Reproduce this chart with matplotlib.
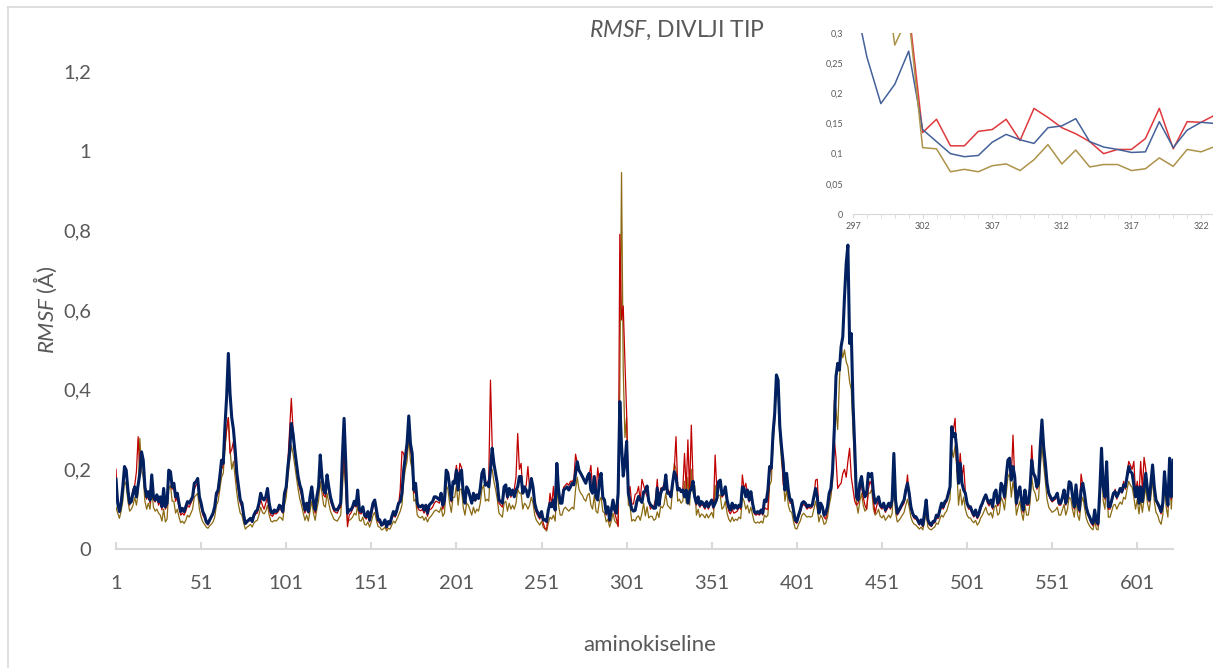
import numpy as np
import matplotlib
matplotlib.use("Agg")
import matplotlib.pyplot as plt
from matplotlib.lines import Line2D

plt.rcParams["font.family"] = ["Lato", "DejaVu Sans"]
plt.rcParams["mathtext.fontset"] = "custom"
plt.rcParams["mathtext.it"] = "Lato:italic"
plt.rcParams["mathtext.rm"] = "Lato"

# RMSF per residue (A)
rmsf_navy = [
    0.175, 0.115, 0.094, 0.115, 0.156, 0.207, 0.198, 0.148, 0.115, 0.119,
    0.140, 0.156, 0.131, 0.161, 0.190, 0.244, 0.223, 0.156, 0.131, 0.144,
    0.123, 0.186, 0.131, 0.123, 0.136, 0.119, 0.131, 0.106, 0.152, 0.106,
    0.115, 0.198, 0.194, 0.156, 0.165, 0.131, 0.140, 0.115, 0.094, 0.102,
    0.094, 0.106, 0.119, 0.115, 0.123, 0.131, 0.165, 0.169, 0.177, 0.131,
    0.115, 0.094, 0.085, 0.069, 0.064, 0.073, 0.081, 0.090, 0.106, 0.140,
    0.148, 0.182, 0.223, 0.215, 0.307, 0.382, 0.491, 0.390, 0.330, 0.300,
    0.250, 0.190, 0.156, 0.123, 0.115, 0.085, 0.064, 0.069, 0.073, 0.077,
    0.069, 0.085, 0.094, 0.098, 0.115, 0.140, 0.127, 0.123, 0.131, 0.152,
    0.115, 0.094, 0.090, 0.098, 0.094, 0.098, 0.110, 0.106, 0.094, 0.140,
    0.156, 0.207, 0.244, 0.315, 0.290, 0.249, 0.215, 0.182, 0.161, 0.148,
    0.119, 0.098, 0.115, 0.094, 0.131, 0.156, 0.119, 0.098, 0.131, 0.156,
    0.236, 0.182, 0.148, 0.140, 0.186, 0.156, 0.131, 0.115, 0.102, 0.098,
    0.098, 0.106, 0.115, 0.232, 0.328, 0.215, 0.090, 0.098, 0.098, 0.106,
    0.120, 0.110, 0.148, 0.098, 0.094, 0.106, 0.085, 0.081, 0.094, 0.073,
    0.094, 0.115, 0.123, 0.098, 0.073, 0.073, 0.060, 0.064, 0.073, 0.056,
    0.069, 0.064, 0.081, 0.094, 0.085, 0.098, 0.115, 0.119, 0.140, 0.198,
    0.232, 0.265, 0.334, 0.265, 0.240, 0.148, 0.165, 0.115, 0.106, 0.106,
    0.110, 0.098, 0.110, 0.090, 0.110, 0.115, 0.119, 0.131, 0.131, 0.127,
    0.123, 0.140, 0.110, 0.123, 0.198, 0.190, 0.156, 0.123, 0.169, 0.165,
    0.198, 0.148, 0.190, 0.198, 0.140, 0.115, 0.156, 0.148, 0.131, 0.115,
    0.140, 0.123, 0.136, 0.127, 0.152, 0.190, 0.200, 0.160, 0.165, 0.156,
    0.198, 0.253, 0.215, 0.190, 0.165, 0.123, 0.119, 0.115, 0.156, 0.161,
    0.131, 0.152, 0.136, 0.148, 0.131, 0.148, 0.156, 0.182, 0.182, 0.140,
    0.156, 0.148, 0.131, 0.148, 0.177, 0.156, 0.115, 0.098, 0.090, 0.081,
    0.094, 0.073, 0.073, 0.069, 0.098, 0.115, 0.106, 0.123, 0.098, 0.215,
    0.148, 0.115, 0.115, 0.148, 0.152, 0.156, 0.148, 0.156, 0.165, 0.161,
    0.190, 0.219, 0.198, 0.190, 0.182, 0.173, 0.165, 0.182, 0.190, 0.148,
    0.140, 0.182, 0.131, 0.123, 0.170, 0.190, 0.130, 0.123, 0.090, 0.106,
    0.073, 0.098, 0.123, 0.098, 0.090, 0.140, 0.370, 0.260, 0.183, 0.215,
    0.270, 0.140, 0.120, 0.100, 0.095, 0.097, 0.119, 0.132, 0.123, 0.117,
    0.143, 0.146, 0.158, 0.120, 0.111, 0.107, 0.102, 0.103, 0.153, 0.110,
    0.139, 0.152, 0.150, 0.186, 0.140, 0.140, 0.131, 0.165, 0.194, 0.182,
    0.148, 0.152, 0.144, 0.148, 0.131, 0.148, 0.115, 0.144, 0.150, 0.170,
    0.131, 0.115, 0.131, 0.110, 0.119, 0.115, 0.106, 0.119, 0.106, 0.115,
    0.123, 0.106, 0.115, 0.127, 0.169, 0.173, 0.136, 0.140, 0.156, 0.123,
    0.106, 0.098, 0.115, 0.102, 0.110, 0.102, 0.110, 0.106, 0.156, 0.152,
    0.131, 0.148, 0.123, 0.144, 0.115, 0.094, 0.090, 0.094, 0.090, 0.098,
    0.090, 0.123, 0.119, 0.148, 0.207, 0.203, 0.290, 0.341, 0.437, 0.424,
    0.307, 0.257, 0.215, 0.148, 0.190, 0.148, 0.123, 0.123, 0.098, 0.073,
    0.069, 0.085, 0.098, 0.115, 0.119, 0.115, 0.106, 0.110, 0.108, 0.110,
    0.131, 0.152, 0.131, 0.090, 0.115, 0.106, 0.085, 0.090, 0.106, 0.140,
    0.152, 0.198, 0.299, 0.433, 0.466, 0.449, 0.508, 0.533, 0.633, 0.717,
    0.763, 0.516, 0.541, 0.366, 0.257, 0.131, 0.123, 0.165, 0.182, 0.148,
    0.131, 0.140, 0.190, 0.182, 0.190, 0.140, 0.115, 0.123, 0.131, 0.110,
    0.106, 0.115, 0.098, 0.106, 0.115, 0.106, 0.123, 0.240, 0.123, 0.090,
    0.098, 0.106, 0.115, 0.123, 0.148, 0.165, 0.140, 0.106, 0.090, 0.081,
    0.081, 0.073, 0.064, 0.073, 0.060, 0.090, 0.123, 0.073, 0.064, 0.060,
    0.069, 0.070, 0.085, 0.081, 0.098, 0.115, 0.106, 0.119, 0.123, 0.140,
    0.156, 0.307, 0.282, 0.290, 0.249, 0.165, 0.215, 0.165, 0.148, 0.140,
    0.115, 0.106, 0.106, 0.094, 0.085, 0.098, 0.081, 0.090, 0.106, 0.115,
    0.127, 0.136, 0.123, 0.115, 0.123, 0.106, 0.140, 0.148, 0.115, 0.123,
    0.165, 0.156, 0.131, 0.182, 0.223, 0.228, 0.173, 0.207, 0.182, 0.115,
    0.140, 0.156, 0.123, 0.098, 0.148, 0.115, 0.115, 0.152, 0.223, 0.190,
    0.182, 0.156, 0.165, 0.257, 0.324, 0.257, 0.215, 0.165, 0.140, 0.131,
    0.123, 0.127, 0.131, 0.140, 0.115, 0.115, 0.130, 0.148, 0.115, 0.131,
    0.169, 0.165, 0.131, 0.106, 0.161, 0.115, 0.098, 0.148, 0.165, 0.140,
    0.106, 0.090, 0.081, 0.069, 0.064, 0.098, 0.069, 0.064, 0.148, 0.253,
    0.156, 0.131, 0.219, 0.106, 0.106, 0.123, 0.140, 0.144, 0.131, 0.140,
    0.152, 0.144, 0.161, 0.156, 0.182, 0.207, 0.194, 0.190, 0.161, 0.131,
    0.156, 0.115, 0.156, 0.119, 0.156, 0.190, 0.148, 0.123, 0.165, 0.211,
    0.156, 0.123, 0.115, 0.106, 0.094, 0.115, 0.194, 0.140, 0.110, 0.228,
    0.131, 0.223,
]

rmsf_red = [
    0.200, 0.110, 0.100, 0.125, 0.150, 0.195, 0.190, 0.140, 0.110, 0.125,
    0.150, 0.160, 0.194, 0.282, 0.200, 0.230, 0.210, 0.150, 0.125, 0.140,
    0.115, 0.175, 0.125, 0.118, 0.130, 0.110, 0.120, 0.098, 0.140, 0.100,
    0.110, 0.185, 0.190, 0.150, 0.155, 0.120, 0.130, 0.105, 0.085, 0.090,
    0.085, 0.095, 0.110, 0.105, 0.115, 0.125, 0.150, 0.160, 0.165, 0.125,
    0.105, 0.085, 0.078, 0.065, 0.060, 0.068, 0.078, 0.085, 0.100, 0.130,
    0.140, 0.170, 0.200, 0.210, 0.260, 0.300, 0.330, 0.240, 0.250, 0.270,
    0.215, 0.170, 0.145, 0.115, 0.105, 0.080, 0.062, 0.066, 0.070, 0.075,
    0.068, 0.080, 0.088, 0.090, 0.105, 0.125, 0.110, 0.100, 0.115, 0.130,
    0.100, 0.085, 0.082, 0.090, 0.088, 0.092, 0.100, 0.098, 0.090, 0.130,
    0.150, 0.220, 0.300, 0.378, 0.300, 0.255, 0.210, 0.175, 0.150, 0.135,
    0.110, 0.090, 0.105, 0.090, 0.120, 0.140, 0.110, 0.090, 0.120, 0.145,
    0.210, 0.170, 0.135, 0.130, 0.170, 0.145, 0.120, 0.108, 0.095, 0.092,
    0.090, 0.100, 0.105, 0.180, 0.250, 0.150, 0.056, 0.085, 0.090, 0.100,
    0.110, 0.105, 0.135, 0.090, 0.088, 0.098, 0.080, 0.075, 0.085, 0.068,
    0.085, 0.105, 0.115, 0.090, 0.068, 0.066, 0.058, 0.060, 0.066, 0.052,
    0.064, 0.060, 0.075, 0.085, 0.080, 0.092, 0.110, 0.150, 0.245, 0.240,
    0.215, 0.250, 0.300, 0.250, 0.225, 0.140, 0.150, 0.105, 0.098, 0.096,
    0.100, 0.090, 0.100, 0.082, 0.098, 0.100, 0.105, 0.115, 0.120, 0.118,
    0.115, 0.130, 0.100, 0.115, 0.190, 0.195, 0.150, 0.118, 0.160, 0.180,
    0.210, 0.160, 0.215, 0.205, 0.150, 0.120, 0.150, 0.150, 0.130, 0.115,
    0.135, 0.120, 0.130, 0.125, 0.150, 0.185, 0.195, 0.160, 0.165, 0.175,
    0.424, 0.260, 0.220, 0.185, 0.160, 0.115, 0.110, 0.105, 0.145, 0.150,
    0.125, 0.145, 0.130, 0.145, 0.150, 0.180, 0.290, 0.200, 0.215, 0.140,
    0.150, 0.160, 0.207, 0.150, 0.170, 0.145, 0.105, 0.090, 0.082, 0.075,
    0.088, 0.065, 0.052, 0.050, 0.090, 0.140, 0.110, 0.157, 0.095, 0.190,
    0.150, 0.120, 0.130, 0.155, 0.160, 0.165, 0.160, 0.170, 0.170, 0.175,
    0.238, 0.215, 0.195, 0.190, 0.180, 0.175, 0.165, 0.175, 0.185, 0.210,
    0.150, 0.180, 0.135, 0.204, 0.170, 0.185, 0.125, 0.118, 0.085, 0.100,
    0.068, 0.092, 0.118, 0.090, 0.075, 0.056, 0.790, 0.575, 0.610, 0.470,
    0.340, 0.135, 0.157, 0.113, 0.113, 0.137, 0.140, 0.157, 0.122, 0.175,
    0.160, 0.143, 0.133, 0.120, 0.100, 0.107, 0.107, 0.125, 0.175, 0.108,
    0.153, 0.152, 0.164, 0.180, 0.150, 0.145, 0.135, 0.170, 0.200, 0.282,
    0.160, 0.150, 0.145, 0.150, 0.240, 0.150, 0.274, 0.140, 0.311, 0.175,
    0.125, 0.110, 0.125, 0.105, 0.112, 0.108, 0.100, 0.112, 0.100, 0.110,
    0.118, 0.100, 0.236, 0.150, 0.165, 0.160, 0.130, 0.135, 0.150, 0.115,
    0.095, 0.088, 0.100, 0.090, 0.092, 0.095, 0.105, 0.100, 0.186, 0.150,
    0.165, 0.140, 0.118, 0.135, 0.108, 0.088, 0.085, 0.088, 0.085, 0.092,
    0.085, 0.105, 0.100, 0.100, 0.190, 0.200, 0.280, 0.330, 0.430, 0.420,
    0.300, 0.250, 0.160, 0.180, 0.185, 0.140, 0.115, 0.115, 0.090, 0.068,
    0.064, 0.080, 0.090, 0.108, 0.112, 0.108, 0.100, 0.105, 0.102, 0.105,
    0.125, 0.173, 0.175, 0.090, 0.110, 0.100, 0.080, 0.075, 0.100, 0.130,
    0.145, 0.180, 0.274, 0.230, 0.152, 0.160, 0.165, 0.190, 0.200, 0.180,
    0.220, 0.253, 0.180, 0.150, 0.120, 0.110, 0.115, 0.150, 0.160, 0.130,
    0.110, 0.100, 0.150, 0.170, 0.160, 0.120, 0.090, 0.110, 0.120, 0.105,
    0.100, 0.110, 0.092, 0.100, 0.108, 0.100, 0.115, 0.200, 0.115, 0.085,
    0.092, 0.100, 0.108, 0.115, 0.140, 0.186, 0.135, 0.100, 0.085, 0.076,
    0.075, 0.068, 0.060, 0.068, 0.056, 0.085, 0.110, 0.068, 0.060, 0.056,
    0.064, 0.066, 0.080, 0.076, 0.092, 0.108, 0.100, 0.112, 0.118, 0.135,
    0.150, 0.280, 0.300, 0.328, 0.200, 0.180, 0.240, 0.180, 0.210, 0.145,
    0.110, 0.100, 0.100, 0.088, 0.080, 0.092, 0.076, 0.084, 0.100, 0.110,
    0.128, 0.130, 0.115, 0.108, 0.118, 0.100, 0.135, 0.140, 0.108, 0.115,
    0.160, 0.150, 0.125, 0.175, 0.215, 0.220, 0.180, 0.286, 0.175, 0.110,
    0.135, 0.150, 0.118, 0.092, 0.140, 0.110, 0.110, 0.145, 0.260, 0.185,
    0.175, 0.150, 0.160, 0.245, 0.310, 0.250, 0.205, 0.160, 0.135, 0.125,
    0.118, 0.122, 0.125, 0.135, 0.110, 0.110, 0.125, 0.140, 0.110, 0.125,
    0.165, 0.160, 0.125, 0.100, 0.155, 0.110, 0.092, 0.188, 0.160, 0.135,
    0.100, 0.085, 0.076, 0.064, 0.058, 0.092, 0.064, 0.058, 0.140, 0.240,
    0.150, 0.125, 0.210, 0.100, 0.100, 0.118, 0.135, 0.150, 0.125, 0.145,
    0.150, 0.140, 0.170, 0.150, 0.190, 0.220, 0.210, 0.200, 0.220, 0.140,
    0.170, 0.130, 0.220, 0.150, 0.230, 0.200, 0.145, 0.118, 0.160, 0.200,
    0.150, 0.120, 0.110, 0.100, 0.088, 0.110, 0.185, 0.135, 0.105, 0.215,
    0.125, 0.150,
]

rmsf_gold = [
    0.105, 0.090, 0.077, 0.095, 0.120, 0.170, 0.160, 0.120, 0.095, 0.100,
    0.110, 0.130, 0.110, 0.140, 0.278, 0.200, 0.180, 0.120, 0.100, 0.115,
    0.100, 0.150, 0.105, 0.095, 0.100, 0.090, 0.085, 0.070, 0.100, 0.068,
    0.075, 0.150, 0.160, 0.120, 0.120, 0.090, 0.100, 0.080, 0.066, 0.070,
    0.064, 0.072, 0.085, 0.080, 0.090, 0.100, 0.130, 0.135, 0.140, 0.100,
    0.080, 0.068, 0.062, 0.055, 0.052, 0.058, 0.062, 0.068, 0.080, 0.110,
    0.120, 0.150, 0.180, 0.190, 0.250, 0.300, 0.330, 0.250, 0.200, 0.220,
    0.180, 0.140, 0.110, 0.090, 0.085, 0.065, 0.050, 0.055, 0.058, 0.062,
    0.055, 0.065, 0.070, 0.072, 0.085, 0.105, 0.092, 0.088, 0.095, 0.110,
    0.085, 0.070, 0.068, 0.072, 0.070, 0.074, 0.080, 0.078, 0.072, 0.110,
    0.130, 0.180, 0.220, 0.260, 0.240, 0.210, 0.180, 0.150, 0.125, 0.110,
    0.090, 0.072, 0.085, 0.070, 0.095, 0.120, 0.090, 0.072, 0.100, 0.120,
    0.170, 0.140, 0.110, 0.105, 0.140, 0.115, 0.095, 0.085, 0.075, 0.072,
    0.070, 0.078, 0.085, 0.150, 0.220, 0.140, 0.068, 0.072, 0.075, 0.080,
    0.090, 0.085, 0.110, 0.072, 0.070, 0.080, 0.062, 0.060, 0.068, 0.055,
    0.068, 0.085, 0.092, 0.072, 0.056, 0.055, 0.048, 0.050, 0.055, 0.045,
    0.052, 0.050, 0.060, 0.070, 0.065, 0.075, 0.085, 0.095, 0.110, 0.170,
    0.200, 0.220, 0.280, 0.220, 0.200, 0.120, 0.125, 0.085, 0.080, 0.078,
    0.082, 0.072, 0.080, 0.068, 0.078, 0.082, 0.088, 0.095, 0.098, 0.095,
    0.092, 0.105, 0.082, 0.090, 0.160, 0.150, 0.115, 0.092, 0.130, 0.130,
    0.160, 0.110, 0.150, 0.150, 0.105, 0.085, 0.115, 0.110, 0.098, 0.085,
    0.105, 0.090, 0.100, 0.095, 0.115, 0.150, 0.160, 0.120, 0.125, 0.120,
    0.200, 0.200, 0.170, 0.150, 0.125, 0.090, 0.085, 0.080, 0.115, 0.120,
    0.095, 0.115, 0.100, 0.110, 0.100, 0.115, 0.150, 0.140, 0.140, 0.100,
    0.115, 0.110, 0.100, 0.110, 0.130, 0.115, 0.085, 0.072, 0.066, 0.060,
    0.070, 0.055, 0.050, 0.045, 0.065, 0.080, 0.075, 0.085, 0.070, 0.150,
    0.110, 0.085, 0.085, 0.100, 0.105, 0.100, 0.095, 0.100, 0.105, 0.100,
    0.150, 0.180, 0.150, 0.140, 0.135, 0.125, 0.120, 0.135, 0.140, 0.110,
    0.100, 0.135, 0.095, 0.090, 0.120, 0.130, 0.095, 0.090, 0.068, 0.075,
    0.055, 0.070, 0.090, 0.070, 0.065, 0.060, 0.400, 0.945, 0.450, 0.280,
    0.330, 0.110, 0.108, 0.070, 0.074, 0.070, 0.080, 0.083, 0.072, 0.090,
    0.115, 0.083, 0.106, 0.078, 0.082, 0.082, 0.072, 0.075, 0.093, 0.079,
    0.107, 0.103, 0.112, 0.140, 0.110, 0.105, 0.100, 0.150, 0.215, 0.200,
    0.120, 0.125, 0.115, 0.120, 0.170, 0.115, 0.180, 0.110, 0.200, 0.140,
    0.160, 0.085, 0.100, 0.080, 0.088, 0.085, 0.078, 0.088, 0.078, 0.085,
    0.092, 0.078, 0.160, 0.120, 0.135, 0.135, 0.100, 0.105, 0.120, 0.090,
    0.075, 0.068, 0.080, 0.070, 0.075, 0.072, 0.080, 0.076, 0.130, 0.120,
    0.100, 0.110, 0.090, 0.105, 0.085, 0.068, 0.065, 0.068, 0.065, 0.070,
    0.065, 0.085, 0.080, 0.085, 0.160, 0.170, 0.260, 0.320, 0.420, 0.400,
    0.280, 0.220, 0.180, 0.120, 0.150, 0.110, 0.095, 0.092, 0.070, 0.052,
    0.050, 0.062, 0.070, 0.085, 0.090, 0.085, 0.080, 0.082, 0.080, 0.082,
    0.100, 0.120, 0.100, 0.068, 0.085, 0.078, 0.062, 0.065, 0.080, 0.110,
    0.130, 0.170, 0.374, 0.350, 0.300, 0.420, 0.508, 0.480, 0.500, 0.470,
    0.458, 0.420, 0.400, 0.300, 0.200, 0.115, 0.090, 0.120, 0.140, 0.110,
    0.095, 0.100, 0.140, 0.140, 0.150, 0.100, 0.085, 0.090, 0.100, 0.082,
    0.078, 0.085, 0.072, 0.078, 0.085, 0.078, 0.090, 0.180, 0.092, 0.068,
    0.072, 0.078, 0.085, 0.092, 0.110, 0.125, 0.105, 0.080, 0.068, 0.062,
    0.060, 0.055, 0.050, 0.055, 0.048, 0.068, 0.090, 0.055, 0.050, 0.048,
    0.052, 0.055, 0.065, 0.062, 0.075, 0.085, 0.080, 0.090, 0.095, 0.110,
    0.125, 0.250, 0.230, 0.260, 0.200, 0.110, 0.150, 0.110, 0.130, 0.100,
    0.085, 0.078, 0.078, 0.070, 0.066, 0.072, 0.060, 0.066, 0.078, 0.085,
    0.095, 0.105, 0.090, 0.085, 0.092, 0.078, 0.105, 0.110, 0.085, 0.090,
    0.130, 0.120, 0.098, 0.140, 0.180, 0.190, 0.130, 0.170, 0.140, 0.085,
    0.105, 0.120, 0.092, 0.072, 0.110, 0.085, 0.085, 0.115, 0.180, 0.150,
    0.140, 0.120, 0.125, 0.200, 0.260, 0.210, 0.170, 0.125, 0.105, 0.098,
    0.092, 0.095, 0.098, 0.105, 0.085, 0.085, 0.098, 0.112, 0.085, 0.100,
    0.130, 0.125, 0.098, 0.080, 0.125, 0.085, 0.072, 0.115, 0.130, 0.105,
    0.078, 0.066, 0.058, 0.052, 0.048, 0.072, 0.050, 0.048, 0.115, 0.210,
    0.120, 0.100, 0.180, 0.080, 0.080, 0.095, 0.110, 0.112, 0.100, 0.110,
    0.118, 0.112, 0.130, 0.125, 0.150, 0.170, 0.160, 0.155, 0.130, 0.100,
    0.125, 0.088, 0.125, 0.092, 0.125, 0.155, 0.115, 0.095, 0.130, 0.175,
    0.120, 0.092, 0.085, 0.070, 0.062, 0.085, 0.160, 0.105, 0.080, 0.190,
    0.100, 0.180,
]

residues = np.arange(1, len(rmsf_navy) + 1)
x_ticks = list(range(1, 602, 50))
y_ticks = [0, 0.2, 0.4, 0.6, 0.8, 1.0, 1.2]
y_labels = ["0", "0,2", "0,4", "0,6", "0,8", "1", "1,2"]

# zoomed window 297-323
inset_start, inset_end = 297, 323
inset_xticks = list(range(297, 323, 5))
inset_yticks = [0, 0.05, 0.1, 0.15, 0.2, 0.25, 0.3]
inset_ylabels = ["0", "0,05", "0,1", "0,15", "0,2", "0,25", "0,3"]

TXT = "#595959"
AXC = "#d9d9d9"
W, H = 1213, 668

fig = plt.figure(figsize=(W / 100, H / 100), dpi=100)

# main plot
x0, x1, y0, y1 = 116, 1173, 71, 549
ax = fig.add_axes([x0 / W, 1 - y1 / H, (x1 - x0) / W, (y1 - y0) / H])
ax.plot(residues, rmsf_gold, color="#8a6a12", lw=0.9, solid_joinstyle="round")
ax.plot(residues, rmsf_red, color="#c00000", lw=0.9, solid_joinstyle="round")
ax.plot(residues, rmsf_navy, color="#002060", lw=2.2, solid_joinstyle="round")

ax.set_xlim(1, len(rmsf_navy))
ax.set_ylim(0, 1.2)
ax.set_xticks(x_ticks)
ax.set_xticklabels([str(t) for t in x_ticks])
ax.set_yticks(y_ticks)
ax.set_yticklabels(y_labels)
for s in ["top", "right", "left"]:
    ax.spines[s].set_visible(False)
ax.spines["bottom"].set_color(AXC)
ax.spines["bottom"].set_linewidth(1.5)
ax.tick_params(axis="x", direction="in", length=5, width=1.5, color=AXC,
               pad=19, labelsize=14.5, labelcolor=TXT)
ax.tick_params(axis="y", length=0, pad=18, labelsize=14.5, labelcolor=TXT)

fig.text(650 / W, 1 - 645 / H, "aminokiseline", ha="center", va="center",
         fontsize=16, color=TXT)
fig.text(45 / W, 1 - 310 / H, r"$\mathit{RMSF}$ (Å)", ha="center", va="center",
         rotation=90, fontsize=16, color=TXT)
fig.text(677 / W, 1 - 30 / H, r"$\mathit{RMSF}$, DIVLJI TIP", ha="center",
         va="center", fontsize=16.5, color=TXT)

# inset
ix0, ix1, iy0, iy1 = 853, 1215, 33, 214
ins = fig.add_axes([ix0 / W, 1 - iy1 / H, (ix1 - ix0) / W, (iy1 - iy0) / H])
ins.set_facecolor("white")
xi = np.arange(inset_start, inset_end + 1)
sl = slice(inset_start - 1, inset_end)
ins.plot(xi, rmsf_red[sl], color="#e0383c", lw=1.1)
ins.plot(xi, rmsf_navy[sl], color="#44619a", lw=1.1)
ins.plot(xi, rmsf_gold[sl], color="#ad934a", lw=1.1)
ins.set_xlim(inset_start, inset_end)
ins.set_ylim(0, 0.3)
ins.set_xticks(inset_xticks)
ins.set_xticks(xi, minor=True)
ins.set_yticks(inset_yticks)
ins.set_yticklabels(inset_ylabels)
for s in ["top", "right", "left"]:
    ins.spines[s].set_visible(False)
ins.spines["bottom"].set_color(AXC)
ins.tick_params(axis="x", which="both", direction="out", length=3, color=AXC,
                labelsize=6.5, labelcolor=TXT, pad=3)
ins.tick_params(axis="y", length=0, pad=7, labelsize=6.5, labelcolor=TXT)

# chart area border
fig.add_artist(Line2D([8 / W, 8 / W], [0, 1 - 7 / H], color=AXC, lw=1.2))
fig.add_artist(Line2D([8 / W, 1], [1 - 7 / H, 1 - 7 / H], color=AXC, lw=1.2))

fig.savefig("out.png", dpi=100)
